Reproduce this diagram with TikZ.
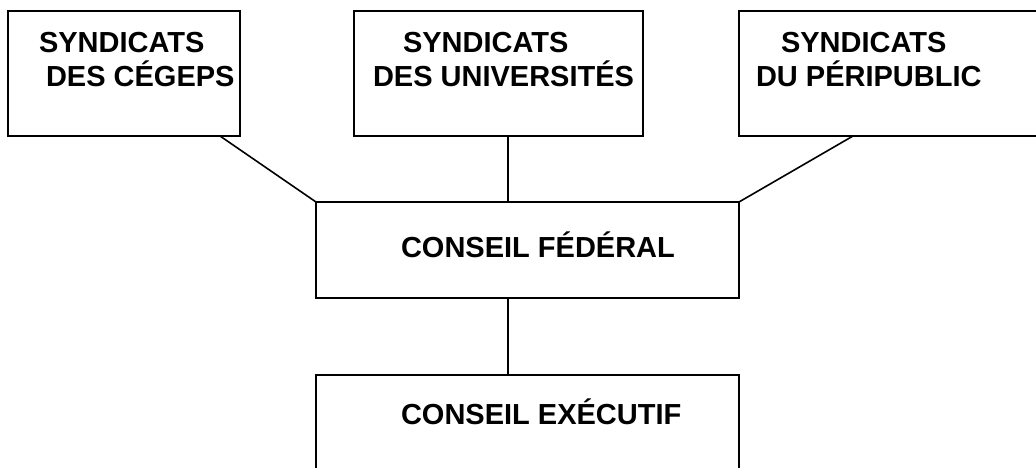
\documentclass[tikz,border=0pt]{standalone}
\usepackage{fontspec}
\setmainfont{Liberation Sans}
\begin{document}
\begin{tikzpicture}[x=1pt,y=-1pt,
  box/.style={draw=black,line width=1.6pt,rectangle,inner sep=0pt,outer sep=0pt,anchor=center},
  lbl/.style={anchor=base west,inner sep=0pt,outer sep=0pt,font=\fontsize{29}{34}\selectfont\bfseries},
  link/.style={draw=black,line width=1.6pt}]
\useasboundingbox (0,0) rectangle (1036,468);
\clip (0,0) rectangle (1036,468);
\node[box,minimum width=232pt,minimum height=125pt] (b1) at (124,73.5) {};
\node[box,minimum width=289pt,minimum height=125pt] (b2) at (498.5,73.5) {};
\node[box,minimum width=306pt,minimum height=125pt] (b3) at (892,73.5) {};
\node[box,minimum width=423pt,minimum height=96pt] (fed) at (527.5,250) {};
\node[box,minimum width=423pt,minimum height=110pt] (exec) at (527.5,430) {};
\node[lbl] (t1a) at (39,53) {SYNDICATS};
\node[lbl] (t1b) at (46,87) {DES CÉGEPS};
\node[lbl] (t2a) at (403,53) {SYNDICATS};
\node[lbl] (t2b) at (373,87) {DES UNIVERSITÉS};
\node[lbl] (t3a) at (781,53) {SYNDICATS};
\node[lbl] (t3b) at (756,87) {DU PÉRIPUBLIC};
\node[lbl] (tfed) at (401,257) {CONSEIL FÉDÉRAL};
\node[lbl] (texec) at (401,424) {CONSEIL EXÉCUTIF};
\draw[link] ([xshift=-20pt]b1.south east) -- (fed.north west);
\draw[link] ([xshift=9.5pt]b2.south) -- ([xshift=-19.5pt]fed.north);
\draw[link] ([xshift=114pt]b3.south west) -- (fed.north east);
\draw[link] ([xshift=-19.5pt]fed.south) -- ([xshift=-19.5pt]exec.north);
\end{tikzpicture}
\end{document}
